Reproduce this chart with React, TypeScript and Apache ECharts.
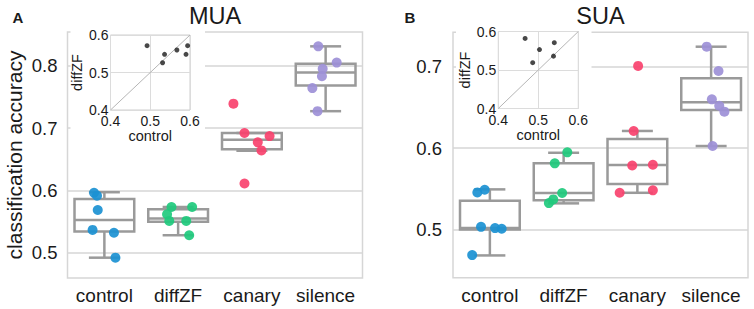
import React, { useEffect, useRef } from "react";
import * as echarts from "echarts";

const FONT = "'Liberation Sans', Arial, Helvetica, sans-serif";

const categories = ["control", "diffZF", "canary", "silence"];
const colors = ["#1b91d2", "#1fca7d", "#f8426e", "#9d90d7"];

const yTicksMUA = [0.5, 0.6, 0.7, 0.8];
const yTicksSUA = [0.5, 0.6, 0.7];

// ---- MUA (panel A) points and horizontal jitter (in category units)
const muaControl = [0.596, 0.5915, 0.5685, 0.5365, 0.532, 0.492];
const muaControlJitter = [-0.14, -0.1, -0.09, -0.16, 0.13, 0.15];
const muaDiffZF = [0.5733, 0.5733, 0.5616, 0.551, 0.551, 0.528];
const muaDiffZFJitter = [-0.09, 0.19, -0.15, -0.12, 0.11, 0.15];
const muaCanary = [0.739, 0.692, 0.687, 0.677, 0.664, 0.611];
const muaCanaryJitter = [-0.25, -0.1, 0.24, 0.08, 0.13, -0.1];
const muaSilence = [0.831, 0.805, 0.795, 0.783, 0.764, 0.727];
const muaSilenceJitter = [-0.1, 0.15, -0.04, -0.05, -0.18, -0.11];

// box stats: [lower whisker, Q1, median, Q3, upper whisker]
const muaBoxControl = [0.492, 0.534, 0.5525, 0.586, 0.597];
const muaBoxDiffZF = [0.528, 0.5498, 0.555, 0.5697, 0.5733];
const muaBoxCanary = [0.6635, 0.666, 0.681, 0.692, 0.692];
const muaBoxSilence = [0.727, 0.768, 0.789, 0.803, 0.831];

// ---- SUA (panel B)
const suaControl = [0.5455, 0.5487, 0.5032, 0.5016, 0.5008, 0.4684];
const suaControlJitter = [-0.17, -0.07, -0.12, 0.07, 0.16, -0.24];
const suaDiffZF = [0.5947, 0.5812, 0.5447, 0.5369, 0.5323];
const suaDiffZFJitter = [0.05, -0.12, -0.02, -0.14, -0.2];
const suaCanary = [0.701, 0.621, 0.5785, 0.5795, 0.545, 0.548];
const suaCanaryJitter = [0.01, -0.05, -0.07, 0.21, -0.24, 0.21];
const suaSilence = [0.7246, 0.6947, 0.6599, 0.652, 0.6447, 0.6025];
const suaSilenceJitter = [-0.06, 0.1, 0.01, 0.11, 0.18, 0.02];

const suaBoxControl = [0.468, 0.5, 0.5016, 0.5352, 0.5492];
const suaBoxDiffZF = [0.532, 0.5357, 0.5447, 0.5812, 0.5942];
const suaBoxCanary = [0.545, 0.5557, 0.5791, 0.6111, 0.621];
const suaBoxSilence = [0.6025, 0.6467, 0.6562, 0.6857, 0.7246];

// ---- insets: control vs diffZF
const muaInsetControl = [0.492, 0.536, 0.531, 0.567, 0.594, 0.59];
const muaInsetDiffZF = [0.5715, 0.5485, 0.526, 0.56, 0.5715, 0.5485];
const suaInsetControl = [0.467, 0.503, 0.486, 0.54, 0.538];
const suaInsetDiffZF = [0.582, 0.553, 0.519, 0.571, 0.536];
const diagonal = [0.4, 0.6];

function boxRender(params: any, api: any) {
  const idx = api.value(0);
  const lo = api.coord([idx, api.value(1)]);
  const q1 = api.coord([idx, api.value(2)]);
  const md = api.coord([idx, api.value(3)]);
  const q3 = api.coord([idx, api.value(4)]);
  const hi = api.coord([idx, api.value(5)]);
  const band = api.size([1, 0])[0];
  const cx = lo[0];
  const bw = band * 0.81;
  const cw = band * 0.42;
  const style = { stroke: "#9a9a9a", lineWidth: 2.5, fill: "none" };
  const ln = (x1: number, y1: number, x2: number, y2: number) => ({
    type: "line",
    shape: { x1, y1, x2, y2 },
    style,
  });
  return {
    type: "group",
    children: [
      ln(cx, q3[1], cx, hi[1]),
      ln(cx, q1[1], cx, lo[1]),
      ln(cx - cw / 2, hi[1], cx + cw / 2, hi[1]),
      ln(cx - cw / 2, lo[1], cx + cw / 2, lo[1]),
      {
        type: "rect",
        shape: { x: cx - bw / 2, y: q3[1], width: bw, height: q1[1] - q3[1] },
        style,
      },
      ln(cx - bw / 2, md[1], cx + bw / 2, md[1]),
    ],
  };
}

function pts(vals: number[], jit: number[], cat: number) {
  return vals.map((v, i) => [cat + jit[i], v]);
}

function boxData(boxes: number[][]) {
  return boxes.map((b, i) => [i, ...b]);
}

const fmt1 = (v: number) => Number(v).toFixed(1);

function mainY(min: number, max: number, ticks: number[], gridIndex: number, withName: boolean, margin: number) {
  return {
    type: "value",
    gridIndex,
    min,
    max,
    name: withName ? "classification accuracy" : "",
    nameLocation: "middle",
    nameRotate: 90,
    nameGap: 43,
    nameTextStyle: { fontSize: 21, color: "#1a1a1a", fontFamily: FONT },
    axisLine: { show: false },
    axisTick: { show: false, customValues: ticks },
    axisLabel: {
      customValues: ticks,
      fontSize: 18.5,
      color: "#1a1a1a",
      fontFamily: FONT,
      margin,
      formatter: fmt1,
    },
    splitLine: { show: true, lineStyle: { color: "#d6d6d6", width: 1.5 } },
  };
}

function catX(gridIndex: number) {
  return {
    type: "category",
    gridIndex,
    data: categories,
    boundaryGap: true,
    axisLine: { show: false },
    axisTick: { show: false },
    splitLine: { show: false },
    axisLabel: { interval: 0, fontSize: 19, color: "#1a1a1a", fontFamily: FONT, margin: 8 },
  };
}

function hiddenX(gridIndex: number) {
  return { type: "value", gridIndex, min: -0.5, max: 3.5, show: false, splitLine: { show: false } };
}

function insetAxis(gridIndex: number, isX: boolean) {
  return {
    type: "value",
    gridIndex,
    min: 0.4,
    max: 0.6,
    interval: 0.1,
    z: 6,
    name: isX ? "control" : "diffZF",
    nameLocation: "middle",
    nameGap: isX ? 18 : 26,
    nameRotate: isX ? 0 : 90,
    nameTextStyle: { fontSize: 14.5, color: "#1a1a1a", fontFamily: FONT },
    axisLine: { show: false },
    axisTick: { show: false },
    axisLabel: {
      fontSize: 14,
      color: "#1a1a1a",
      fontFamily: FONT,
      margin: isX ? 4 : 2,
      formatter: fmt1,
    },
    splitLine: { show: true, lineStyle: { color: "#dcdcdc", width: 1 } },
  };
}

function scatterSeries(data: number[][], color: string, xAxisIndex: number, yAxisIndex: number) {
  return {
    type: "scatter",
    xAxisIndex,
    yAxisIndex,
    data,
    symbolSize: 10,
    z: 3,
    itemStyle: { color, opacity: 0.92 },
  };
}

function insetSeries(xs: number[], ys: number[], xAxisIndex: number, yAxisIndex: number) {
  return [
    {
      type: "line",
      xAxisIndex,
      yAxisIndex,
      data: diagonal.map((d) => [d, d]),
      symbol: "none",
      z: 7,
      lineStyle: { color: "#b5b5b5", width: 1 },
    },
    {
      type: "scatter",
      xAxisIndex,
      yAxisIndex,
      data: xs.map((x, i) => [x, ys[i]]),
      symbolSize: 5,
      z: 8,
      itemStyle: { color: "#1a1a1a" },
    },
  ];
}

const letterStyle = (text: string) => ({
  text,
  fontSize: 15,
  fontWeight: "bold",
  fontFamily: FONT,
  fill: "#1a1a1a",
  align: "center",
  verticalAlign: "middle",
  textAlign: "center",
  textVerticalAlign: "middle",
});

const titleStyle = (text: string) => ({
  text,
  fontSize: 23.5,
  fontFamily: FONT,
  fill: "#1a1a1a",
  align: "center",
  verticalAlign: "middle",
  textAlign: "center",
  textVerticalAlign: "middle",
});

export default function App() {
  const ref = useRef<HTMLDivElement>(null);
  useEffect(() => {
    document.body.style.margin = "0";
    const chart = echarts.init(ref.current!, null, { renderer: "svg" });
    const option: any = {
      animation: false,
      backgroundColor: "#ffffff",
      textStyle: { fontFamily: FONT },
      grid: [
        { left: 67.5, top: 32, width: 295, height: 246, show: true, borderColor: "#d6d6d6", borderWidth: 1.5, backgroundColor: "transparent" },
        { left: 110.5, top: 35, width: 79.5, height: 75, show: true, borderColor: "#cfcfcf", borderWidth: 1, z: 6, backgroundColor: "#ffffff" },
        { left: 453, top: 32.3, width: 295, height: 245.5, show: true, borderColor: "#d6d6d6", borderWidth: 1.5, backgroundColor: "transparent" },
        { left: 498.3, top: 31.5, width: 80, height: 77, show: true, borderColor: "#cfcfcf", borderWidth: 1, z: 6, backgroundColor: "#ffffff" },
      ],
      xAxis: [catX(0), hiddenX(0), insetAxis(1, true), catX(2), hiddenX(2), insetAxis(3, true)],
      yAxis: [
        mainY(0.4594, 0.854, yTicksMUA, 0, true, 10),
        insetAxis(1, false),
        mainY(0.4405, 0.7423, yTicksSUA, 2, false, 11),
        insetAxis(3, false),
      ],
      series: [
        {
          type: "custom",
          xAxisIndex: 0,
          yAxisIndex: 0,
          renderItem: boxRender,
          encode: { x: 0, y: [1, 2, 3, 4, 5] },
          data: boxData([muaBoxControl, muaBoxDiffZF, muaBoxCanary, muaBoxSilence]),
          z: 2,
        },
        scatterSeries(pts(muaControl, muaControlJitter, 0), colors[0], 1, 0),
        scatterSeries(pts(muaDiffZF, muaDiffZFJitter, 1), colors[1], 1, 0),
        scatterSeries(pts(muaCanary, muaCanaryJitter, 2), colors[2], 1, 0),
        scatterSeries(pts(muaSilence, muaSilenceJitter, 3), colors[3], 1, 0),
        ...insetSeries(muaInsetControl, muaInsetDiffZF, 2, 1),
        {
          type: "custom",
          xAxisIndex: 3,
          yAxisIndex: 2,
          renderItem: boxRender,
          encode: { x: 0, y: [1, 2, 3, 4, 5] },
          data: boxData([suaBoxControl, suaBoxDiffZF, suaBoxCanary, suaBoxSilence]),
          z: 2,
        },
        scatterSeries(pts(suaControl, suaControlJitter, 0), colors[0], 4, 2),
        scatterSeries(pts(suaDiffZF, suaDiffZFJitter, 1), colors[1], 4, 2),
        scatterSeries(pts(suaCanary, suaCanaryJitter, 2), colors[2], 4, 2),
        scatterSeries(pts(suaSilence, suaSilenceJitter, 3), colors[3], 4, 2),
        ...insetSeries(suaInsetControl, suaInsetDiffZF, 5, 3),
      ],
      graphic: [
        { type: "rect", z: 5, silent: true, shape: { x: 70.5, y: 26, width: 134.5, height: 120 }, style: { fill: "#ffffff" } },
        { type: "rect", z: 5, silent: true, shape: { x: 456, y: 26, width: 135.5, height: 119 }, style: { fill: "#ffffff" } },
        { type: "text", z: 10, x: 215, y: 15.5, style: titleStyle("MUA") },
        { type: "text", z: 10, x: 600.5, y: 15.5, style: titleStyle("SUA") },
        { type: "text", z: 10, x: 18, y: 17, style: letterStyle("A") },
        { type: "text", z: 10, x: 410, y: 17, style: letterStyle("B") },
      ],
    };
    chart.setOption(option);
    return () => chart.dispose();
  }, []);
  return <div ref={ref} style={{ position: "fixed", left: 0, top: 0, width: 754, height: 309 }} />;
}
